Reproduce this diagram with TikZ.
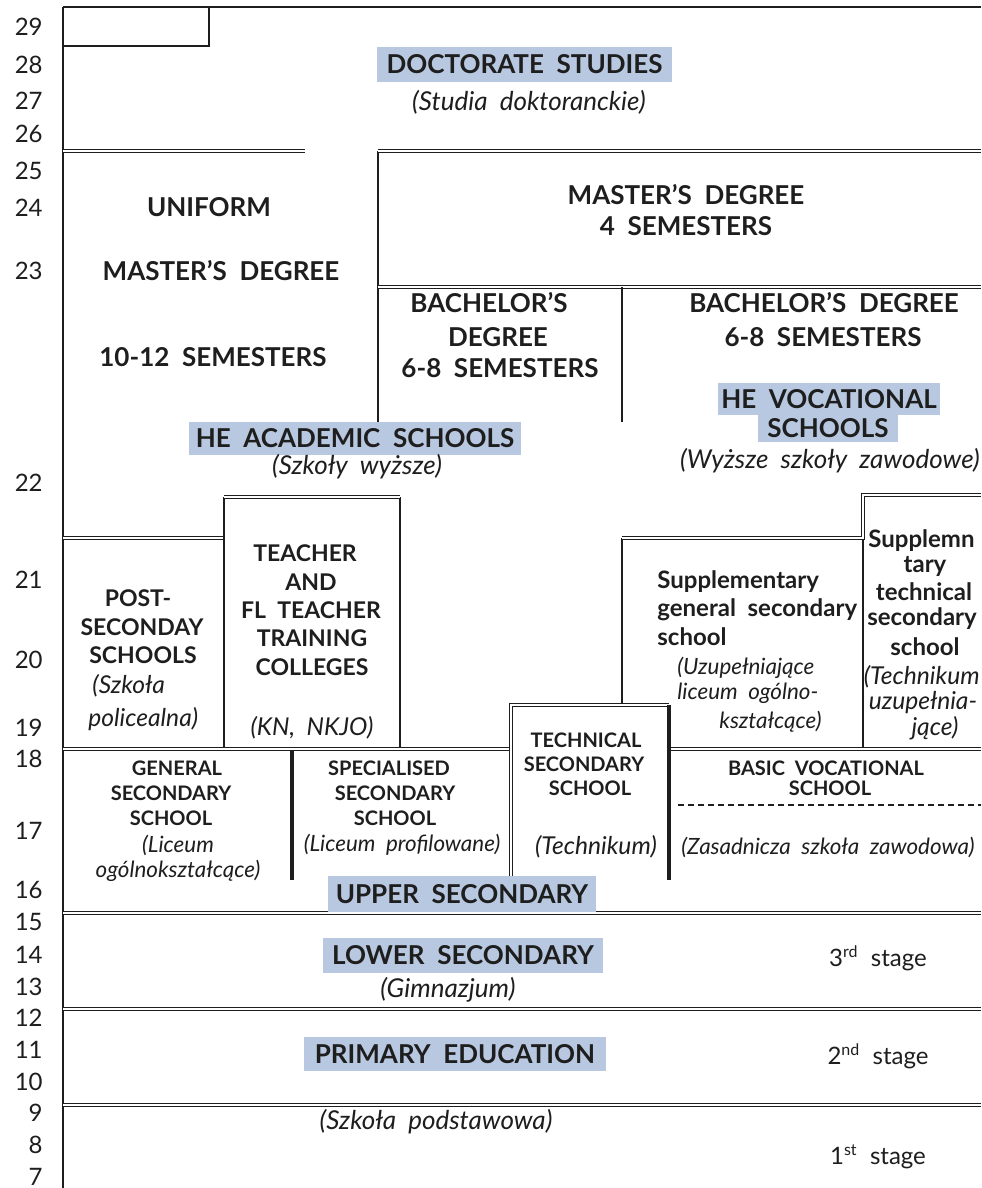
\documentclass[tikz,border=0pt]{standalone}
\usepackage{fontspec}
\setmainfont{Lato}
\definecolor{hl}{HTML}{B8C8E0}
\definecolor{ink}{HTML}{1E1E1E}
\newcommand\fBig{\fontsize{13}{15}\selectfont\bfseries}
\newcommand\fMix{\fontsize{12}{14}\selectfont\bfseries}
\newcommand\fMid{\fontsize{11.5}{14}\selectfont\bfseries}
\newcommand\fSm{\fontsize{10}{12}\selectfont\bfseries}
\newcommand\fItA{\fontsize{13}{15}\selectfont\itshape}
\newcommand\fItB{\fontsize{12.3}{14}\selectfont\itshape}
\newcommand\fItC{\fontsize{11.2}{13}\selectfont\itshape}
\newcommand\fAge{\fontsize{12}{14}\selectfont}
\tikzset{
  frame/.style={draw=ink, line width=0.9pt},
  sline/.style={draw=ink, line width=0.7pt},
  dbl/.style={draw=ink, double=white, double distance=0.8pt, line width=0.65pt},
  thickv/.style={draw=ink, line width=2.4pt},
  dashline/.style={draw=ink, line width=0.7pt, dash pattern=on 3pt off 2pt},
  txt/.style={inner sep=0pt, text=ink},
  big/.style={txt, font=\fBig},
  mix/.style={txt, font=\fMix},
  mid/.style={txt, font=\fMid},
  sml/.style={txt, font=\fSm},
  itA/.style={txt, font=\fItA},
  itB/.style={txt, font=\fItB},
  itC/.style={txt, font=\fItC},
  age/.style={txt, font=\fAge, anchor=east},
  hlbox/.style={fill=hl, inner sep=0pt, text=ink, font=\fBig},
}
\begin{document}
\begin{tikzpicture}[x=0.5pt,y=-0.5pt]
\useasboundingbox (0,0) rectangle (981,1188);
\fill[white] (0,0) rectangle (981,1188);

% ---------- frame ----------
\draw[frame] (63,7) -- (981,7);
\draw[frame] (63,7) -- (63,1188);
\draw[sline] (63,46) -- (209,46) -- (209,7);

% ---------- higher education ----------
\draw[dbl] (63,151) -- (305,151);
\draw[sline] (378,422) -- (378,151);
\draw[dbl] (378,151) -- (981,151);
\draw[dbl] (378,287) -- (981,287);
\draw[sline] (622,287) -- (622,422);

% ---------- post-secondary ----------
\draw[dbl] (63,538) -- (224,538);
\draw[sline] (224,749) -- (224,497);
\draw[sline] (400,497) -- (400,749);
\draw[dbl] (224,497) -- (400,497);
\draw[sline] (622,705) -- (622,538);
\draw[sline] (863,538) -- (863,749);
\draw[dbl] (622,538) -- (863,538) -- (863,495) -- (981,495);

% ---------- upper secondary ----------
\draw[dbl] (63,749) -- (511,749);
\draw[dbl] (670,749) -- (981,749);
\draw[dbl] (511,880) -- (511,705) -- (669,705);
\draw[thickv] (669,705) -- (669,880);
\draw[thickv] (292,750) -- (292,880);
\draw[dashline] (678,805) -- (981,805);

% ---------- lower levels ----------
\draw[dbl] (63,913) -- (981,913);
\draw[dbl] (63,1009) -- (981,1009);
\draw[dbl] (63,1105) -- (981,1105);

% ---------- ages ----------
\node[age] (a29) at (43,27) {29};
\node[age] (a28) at (43,65) {28};
\node[age] (a27) at (43,101) {27};
\node[age] (a26) at (43,134) {26};
\node[age] (a25) at (43,171) {25};
\node[age] (a24) at (43,208) {24};
\node[age] (a23) at (43,271) {23};
\node[age] (a22) at (43,483) {22};
\node[age] (a21) at (43,580) {21};
\node[age] (a20) at (43,660) {20};
\node[age] (a19) at (43,728) {19};
\node[age] (a18) at (43,759) {18};
\node[age] (a17) at (43,831) {17};
\node[age] (a16) at (43,890) {16};
\node[age] (a15) at (43,922) {15};
\node[age] (a14) at (43,955) {14};
\node[age] (a13) at (43,987) {13};
\node[age] (a12) at (43,1018) {12};
\node[age] (a11) at (43,1050) {11};
\node[age] (a10) at (43,1082) {10};
\node[age] (a9) at (43,1113) {9};
\node[age] (a8) at (43,1145) {8};
\node[age] (a7) at (43,1177) {7};

% ---------- doctorate ----------
\node[hlbox, minimum width=147.5pt, minimum height=17.5pt] (doc) at (524.5,64.5) {DOCTORATE\ \ STUDIES};
\node[itA] (docpl) at (529,102) {(Studia\ \ doktoranckie)};

% ---------- uniform master ----------
\node[big] (uni1) at (209,207) {UNIFORM};
\node[big] (uni2) at (221,271) {MASTER'S\ \ DEGREE};
\node[big] (uni3) at (213,357) {10-12\ \ SEMESTERS};

% ---------- master 4 sem ----------
\node[big] (ms1) at (686,194.5) {MASTER'S\ \ DEGREE};
\node[big] (ms2) at (686,226) {4\ \ SEMESTERS};

% ---------- bachelor ----------
\node[big] (ba1) at (489,303) {BACHELOR'S};
\node[big] (ba2) at (498,337) {DEGREE};
\node[big] (ba3) at (500,368) {6-8\ \ SEMESTERS};
\node[big] (bv1) at (824,303) {BACHELOR'S\ \ DEGREE};
\node[big] (bv2) at (823,337) {6-8\ \ SEMESTERS};

% ---------- HE labels ----------
\node[hlbox, minimum width=166pt, minimum height=16.5pt] (heac) at (355,438.5) {HE\ \ ACADEMIC\ \ SCHOOLS};
\node[itA] (heacpl) at (357,467) {(Szkoły\ \ wyższe)};
\node[hlbox, minimum width=111pt, minimum height=16pt] (hev1) at (829,399) {HE\ \ VOCATIONAL};
\node[hlbox, minimum width=70pt, minimum height=13.5pt] (hev2) at (828,428.5) {SCHOOLS};
\node[itA] (hevpl) at (830,461) {(Wyższe\ \ szkoły\ \ zawodowe)};

% ---------- post-secondary ----------
\node[mid] (ps1) at (138,598) {POST-};
\node[mid] (ps2) at (142,627) {SECONDAY};
\node[mid] (ps3) at (143,655) {SCHOOLS};
\node[itB, anchor=west] (ps4) at (92,686) {(Szkoła};
\node[itB, anchor=west] (ps5) at (88,719) {policealna)};

% ---------- teacher colleges ----------
\node[mid] (tc1) at (305,553) {TEACHER};
\node[mid] (tc2) at (311,582) {AND};
\node[mid] (tc3) at (311,610) {FL\ \ TEACHER};
\node[mid] (tc4) at (312,638) {TRAINING};
\node[mid] (tc5) at (312,667) {COLLEGES};
\node[itB] (tc6) at (312,728) {(KN,\ \ NKJO)};

% ---------- supplementary general ----------
\node[mix, anchor=west] (sg1) at (657,582) {Supplementary};
\node[mix, anchor=west] (sg2) at (657,610) {general\ \ secondary};
\node[mix, anchor=west] (sg3) at (657,637) {school};
\node[itC, anchor=west] (sg4) at (677,668) {(Uzupełniające};
\node[itC, anchor=west] (sg5) at (677,693) {liceum\ \ ogólno-};
\node[itC, anchor=east] (sg6) at (822,722) {kształcące)};

% ---------- supplementary technical ----------
\node[mix, anchor=west] (st1) at (868,541) {Supplemn};
\node[mix] (st2) at (925,566) {tary};
\node[mix] (st3) at (924,592) {technical};
\node[mix] (st4) at (922,619) {secondary};
\node[mix] (st5) at (925,647) {school};
\node[itB, anchor=east] (st6) at (980,677) {(Technikum};
\node[itB] (st7) at (923,703) {uzupełnia-};
\node[itB] (st8) at (935,728) {jące)};

% ---------- upper secondary schools ----------
\node[sml] (gs1) at (177,768) {GENERAL};
\node[sml] (gs2) at (171,793) {SECONDARY};
\node[sml] (gs3) at (171,818) {SCHOOL};
\node[itC] (gs4) at (178,845) {(Liceum};
\node[itC] (gs5) at (178,871) {ogólnokształcące)};

\node[sml] (sp1) at (389,768) {SPECIALISED};
\node[sml] (sp2) at (395,793) {SECONDARY};
\node[sml] (sp3) at (395,818) {SCHOOL};
\node[itC] (sp4) at (402,845) {(Liceum\ \ profilowane)};

\node[sml] (ts1) at (586,740) {TECHNICAL};
\node[sml] (ts2) at (584,764) {SECONDARY};
\node[sml] (ts3) at (590,788) {SCHOOL};
\node[itB] (ts4) at (596,847) {(Technikum)};

\node[sml] (bv3) at (826,768) {BASIC\ \ VOCATIONAL};
\node[sml] (bv4) at (830,788) {SCHOOL};
\node[itC] (bv5) at (828,847) {(Zasadnicza\ \ szkoła\ \ zawodowa)};

\node[hlbox, minimum width=134pt, minimum height=18pt] (ups) at (462,894) {UPPER\ \ SECONDARY};

% ---------- lower secondary / primary ----------
\node[hlbox, minimum width=140pt, minimum height=17.5pt] (lows) at (463,955.5) {LOWER\ \ SECONDARY};
\node[itA] (lowspl) at (448,990) {(Gimnazjum)};
\node[hlbox, minimum width=151pt, minimum height=17pt] (prim) at (455,1054) {PRIMARY\ \ EDUCATION};
\node[itA] (primpl) at (436,1122) {(Szkoła\ \ podstawowa)};

\node[txt, font=\fAge] (st3rd) at (878,958) {3\textsuperscript{rd}\ \ stage};
\node[txt, font=\fAge] (st2nd) at (878,1056) {2\textsuperscript{nd}\ \ stage};
\node[txt, font=\fAge] (st1st) at (878,1157) {1\textsuperscript{st}\ \ stage};
\end{tikzpicture}
\end{document}
